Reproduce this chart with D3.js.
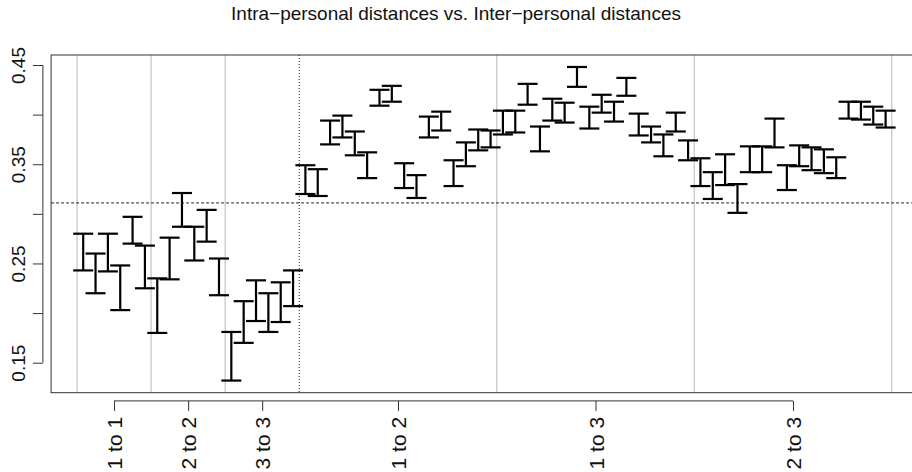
<!DOCTYPE html>
<html>
<head>
<meta charset="utf-8">
<script src="https://cdn.jsdelivr.net/npm/d3@7"></script>
<style>
  body { margin: 0; background: #fff; overflow: hidden; }
  svg { display: block; }
</style>
</head>
<body>
<script>
// groups of comparisons, in plot order
const groupNames = ['1 to 1', '2 to 2', '3 to 3', '1 to 2', '1 to 3', '2 to 3']
const groupSizes = [6, 6, 6, 16, 16, 16]
const nIntra = 18   // first three groups are intra-personal

// error bar ends (66 bars)
const upper = [
  0.280, 0.260, 0.280, 0.248, 0.297, 0.268,
  0.235, 0.276, 0.321, 0.287, 0.304, 0.255,
  0.181, 0.212, 0.233, 0.220, 0.231, 0.243,
  0.349, 0.345, 0.394, 0.399, 0.383, 0.362, 0.425, 0.429, 0.351, 0.339,
  0.398, 0.403, 0.354, 0.372, 0.385, 0.384,
  0.404, 0.404, 0.431, 0.388, 0.416, 0.412, 0.448, 0.408, 0.420, 0.413,
  0.437, 0.401, 0.388, 0.380, 0.402, 0.374,
  0.356, 0.342, 0.360, 0.330, 0.368, 0.368, 0.396, 0.349, 0.369, 0.367,
  0.365, 0.357, 0.413, 0.413, 0.408, 0.404
]
const lower = [
  0.243, 0.220, 0.242, 0.203, 0.270, 0.225,
  0.180, 0.234, 0.287, 0.253, 0.272, 0.218,
  0.132, 0.170, 0.192, 0.181, 0.191, 0.207,
  0.320, 0.318, 0.370, 0.377, 0.359, 0.336, 0.409, 0.413, 0.326, 0.316,
  0.377, 0.384, 0.328, 0.348, 0.364, 0.367,
  0.380, 0.382, 0.410, 0.363, 0.394, 0.392, 0.428, 0.386, 0.402, 0.393,
  0.419, 0.379, 0.372, 0.358, 0.383, 0.354,
  0.328, 0.315, 0.329, 0.301, 0.342, 0.342, 0.367, 0.324, 0.348, 0.344,
  0.341, 0.336, 0.396, 0.395, 0.390, 0.387
]
const refLine = 0.311
const yTicks = [0.15, 0.20, 0.25, 0.30, 0.35, 0.40, 0.45]
const yLabels = [0.15, 0.25, 0.35, 0.45]
const title = 'Intra\u2212personal distances vs. Inter\u2212personal distances'

const width = 912, height = 472
const margin = {top: 55, left: 51.1, bottom: 392.7, right: 917.7}
const font = 'Liberation Sans, Arial, Helvetica, sans-serif'
const fs = 19

const bars = upper.map((u, i) => ({idx: i + 1, hi: u, lo: lower[i]}))

// boundaries and centres of the groups
let cum = [0]
groupSizes.forEach(s => cum.push(cum[cum.length - 1] + s))
const bounds = cum.map(c => c + 0.5)
const centers = groupSizes.map((s, i) => cum[i] + (s + 1) / 2)

const n = bars.length
const ext = (n - 1) * 0.04
const x = d3.scaleLinear().domain([1 - ext, n + ext]).range([margin.left, margin.right])
const y = d3.scaleLinear().domain([0.15, 0.45]).range([362.7, 65])

const svg = d3.select('body').append('svg')
  .attr('width', width)
  .attr('height', height)
  .attr('font-family', font)

// grid lines at group boundaries
svg.append('g').selectAll('line')
  .data(bounds.filter(b => b !== nIntra + 0.5))
  .join('line')
  .attr('x1', d => x(d)).attr('x2', d => x(d))
  .attr('y1', margin.top).attr('y2', margin.bottom)
  .attr('stroke', '#c8c8c8')
  .attr('stroke-width', 1.3)

// intra / inter divider
svg.append('line')
  .attr('x1', x(nIntra + 0.5)).attr('x2', x(nIntra + 0.5))
  .attr('y1', margin.top).attr('y2', margin.bottom)
  .attr('stroke', '#222')
  .attr('stroke-dasharray', '1,2')

// reference level
svg.append('line')
  .attr('x1', margin.left).attr('x2', margin.right)
  .attr('y1', y(refLine)).attr('y2', y(refLine))
  .attr('stroke', '#222')
  .attr('stroke-dasharray', '3,2')

// error bars
const eb = svg.append('g').attr('stroke', '#000').attr('stroke-width', 2.2)
eb.selectAll('.stem').data(bars).join('line')
  .attr('class', 'stem')
  .attr('x1', d => x(d.idx)).attr('x2', d => x(d.idx))
  .attr('y1', d => y(d.hi)).attr('y2', d => y(d.lo))
const capW = 10
eb.selectAll('.capHi').data(bars).join('line')
  .attr('class', 'capHi')
  .attr('x1', d => x(d.idx) - capW).attr('x2', d => x(d.idx) + capW)
  .attr('y1', d => y(d.hi)).attr('y2', d => y(d.hi))
eb.selectAll('.capLo').data(bars).join('line')
  .attr('class', 'capLo')
  .attr('x1', d => x(d.idx) - capW).attr('x2', d => x(d.idx) + capW)
  .attr('y1', d => y(d.lo)).attr('y2', d => y(d.lo))

// box
svg.append('rect')
  .attr('x', margin.left).attr('y', margin.top)
  .attr('width', margin.right - margin.left)
  .attr('height', margin.bottom - margin.top)
  .attr('fill', 'none')
  .attr('stroke', '#333')

// y axis
const yAxis = d3.axisLeft(y).tickValues(yTicks).tickSize(10)
  .tickFormat(d => yLabels.some(v => Math.abs(v - d) < 1e-9) ? d.toFixed(2) : '')
const gy = svg.append('g')
  .attr('transform', `translate(${margin.left - 8.2},0)`)
  .call(yAxis)
gy.select('.domain').remove()
gy.append('line')
  .attr('y1', y(yTicks[0])).attr('y2', y(yTicks[yTicks.length - 1]))
  .attr('stroke', '#333')
gy.selectAll('.tick line').attr('stroke', '#333')
gy.selectAll('.tick text')
  .attr('font-size', fs)
  .attr('font-family', font)
  .attr('fill', '#111')
  .attr('text-anchor', 'middle')
  .attr('x', null).attr('dy', null)
  .attr('transform', 'translate(-18,0) rotate(-90)')

// x axis
const xAxis = d3.axisBottom(x).tickValues(centers).tickSize(10)
  .tickFormat((d, i) => groupNames[i])
const gx = svg.append('g')
  .attr('transform', `translate(0,${margin.bottom + 8.2})`)
  .call(xAxis)
gx.select('.domain').remove()
gx.append('line')
  .attr('x1', x(centers[0])).attr('x2', x(centers[centers.length - 1]))
  .attr('stroke', '#333')
gx.selectAll('.tick line').attr('stroke', '#333')
gx.selectAll('.tick text')
  .attr('font-size', 21)
  .attr('font-family', font)
  .attr('fill', '#111')
  .attr('text-anchor', 'end')
  .attr('y', null).attr('dy', null)
  .attr('transform', 'translate(7.5,16) rotate(-90)')

// title
svg.append('text')
  .attr('x', width / 2)
  .attr('y', 20)
  .attr('text-anchor', 'middle')
  .attr('font-size', fs)
  .attr('fill', '#111')
  .text(title)
</script>
</body>
</html>
